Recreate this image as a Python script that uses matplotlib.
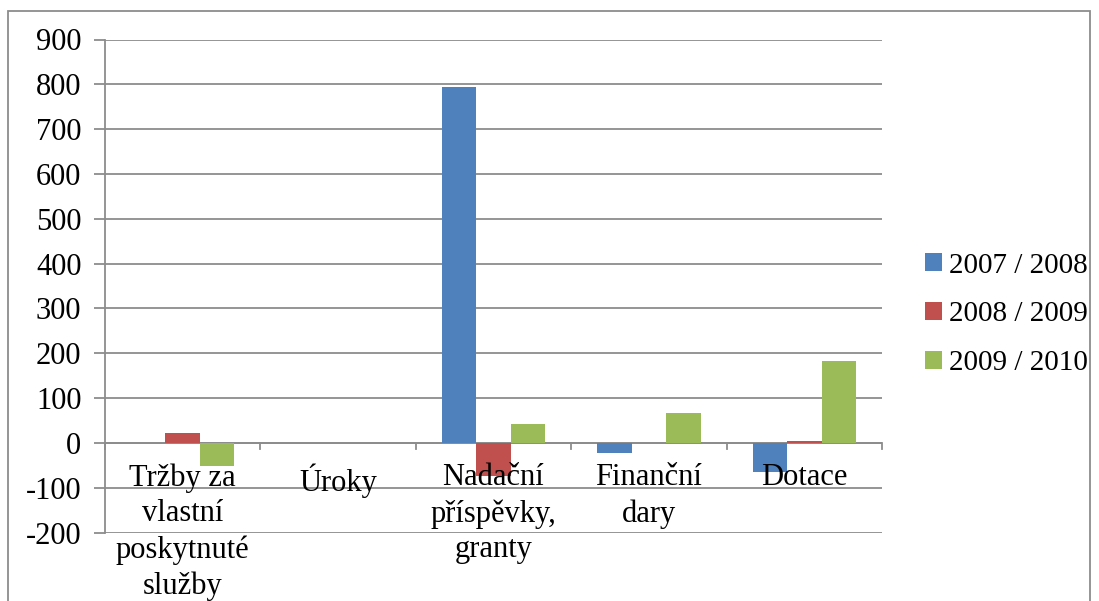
import matplotlib
matplotlib.use('Agg')
import matplotlib.pyplot as plt
from matplotlib.patches import Rectangle
import numpy as np

plt.rcParams['font.family'] = 'Liberation Serif'
plt.rcParams['axes.unicode_minus'] = False

kategorie = ['Tržby za\nvlastní\nposkytnuté\nslužby', 'Úroky',
             'Nadační\npříspěvky,\ngranty', 'Finanční\ndary', 'Dotace']
obdobi = ['2007 / 2008', '2008 / 2009', '2009 / 2010']
hodnoty_0708 = [0, 0, 793, -23, -64]
hodnoty_0809 = [21, 0, -75, 0, 5]
hodnoty_0910 = [-51, 0, 42, 67, 183]
barvy = ['#4F81BD', '#C0504D', '#9BBB59']

W, H = 1099, 601
fig = plt.figure(figsize=(W / 100, H / 100), dpi=100)

# oblast grafu
ax = fig.add_axes([105 / W, 1 - 532.5 / H, (882 - 105) / W, (532.5 - 39.5) / H])

x = np.arange(len(kategorie))
w = 0.222
for j, (serie, barva) in enumerate(zip([hodnoty_0708, hodnoty_0809, hodnoty_0910], barvy)):
    ax.bar(x + (j - 1) * w, serie, width=w, color=barva, label=obdobi[j], zorder=3)

ax.set_xlim(-0.5, len(kategorie) - 0.5)
ax.set_ylim(-200, 900)
ax.set_yticks(range(-200, 901, 100))
ax.yaxis.grid(True, color='#8c8c8c', linewidth=1.3, zorder=0)
ax.tick_params(axis='y', labelsize=22, length=8, width=1.3, color='#8c8c8c', pad=9)
ax.set_xticks([])

for s in ['top', 'right', 'bottom']:
    ax.spines[s].set_visible(False)
ax.spines['left'].set_color('#8c8c8c')
ax.spines['left'].set_linewidth(1.3)

# osa x na nule s dílky mezi kategoriemi
ax.axhline(0, color='#8c8c8c', linewidth=1.3, zorder=2)
for b in np.arange(-0.5, len(kategorie), 1.0):
    ax.plot([b, b], [0, -14], color='#8c8c8c', linewidth=1.3, zorder=2, clip_on=False)

for i, k in enumerate(kategorie):
    ax.text(i, -45, k, ha='center', va='top', fontsize=22, linespacing=1.31, zorder=4)

ax.legend(loc='upper left', bbox_to_anchor=(910 / W, 1 - 238 / H), bbox_transform=fig.transFigure,
          frameon=False, fontsize=21, handlelength=0.58, handleheight=0.58,
          handletextpad=0.25, labelspacing=0.78, borderpad=0)

# rámeček kolem grafu
fig.patches.append(Rectangle((8 / W, -0.02), (1090 - 8) / W, 1.02 - 11 / H,
                             transform=fig.transFigure, fill=False,
                             edgecolor='#8c8c8c', linewidth=1.3))

fig.savefig('out.png', dpi=100)
